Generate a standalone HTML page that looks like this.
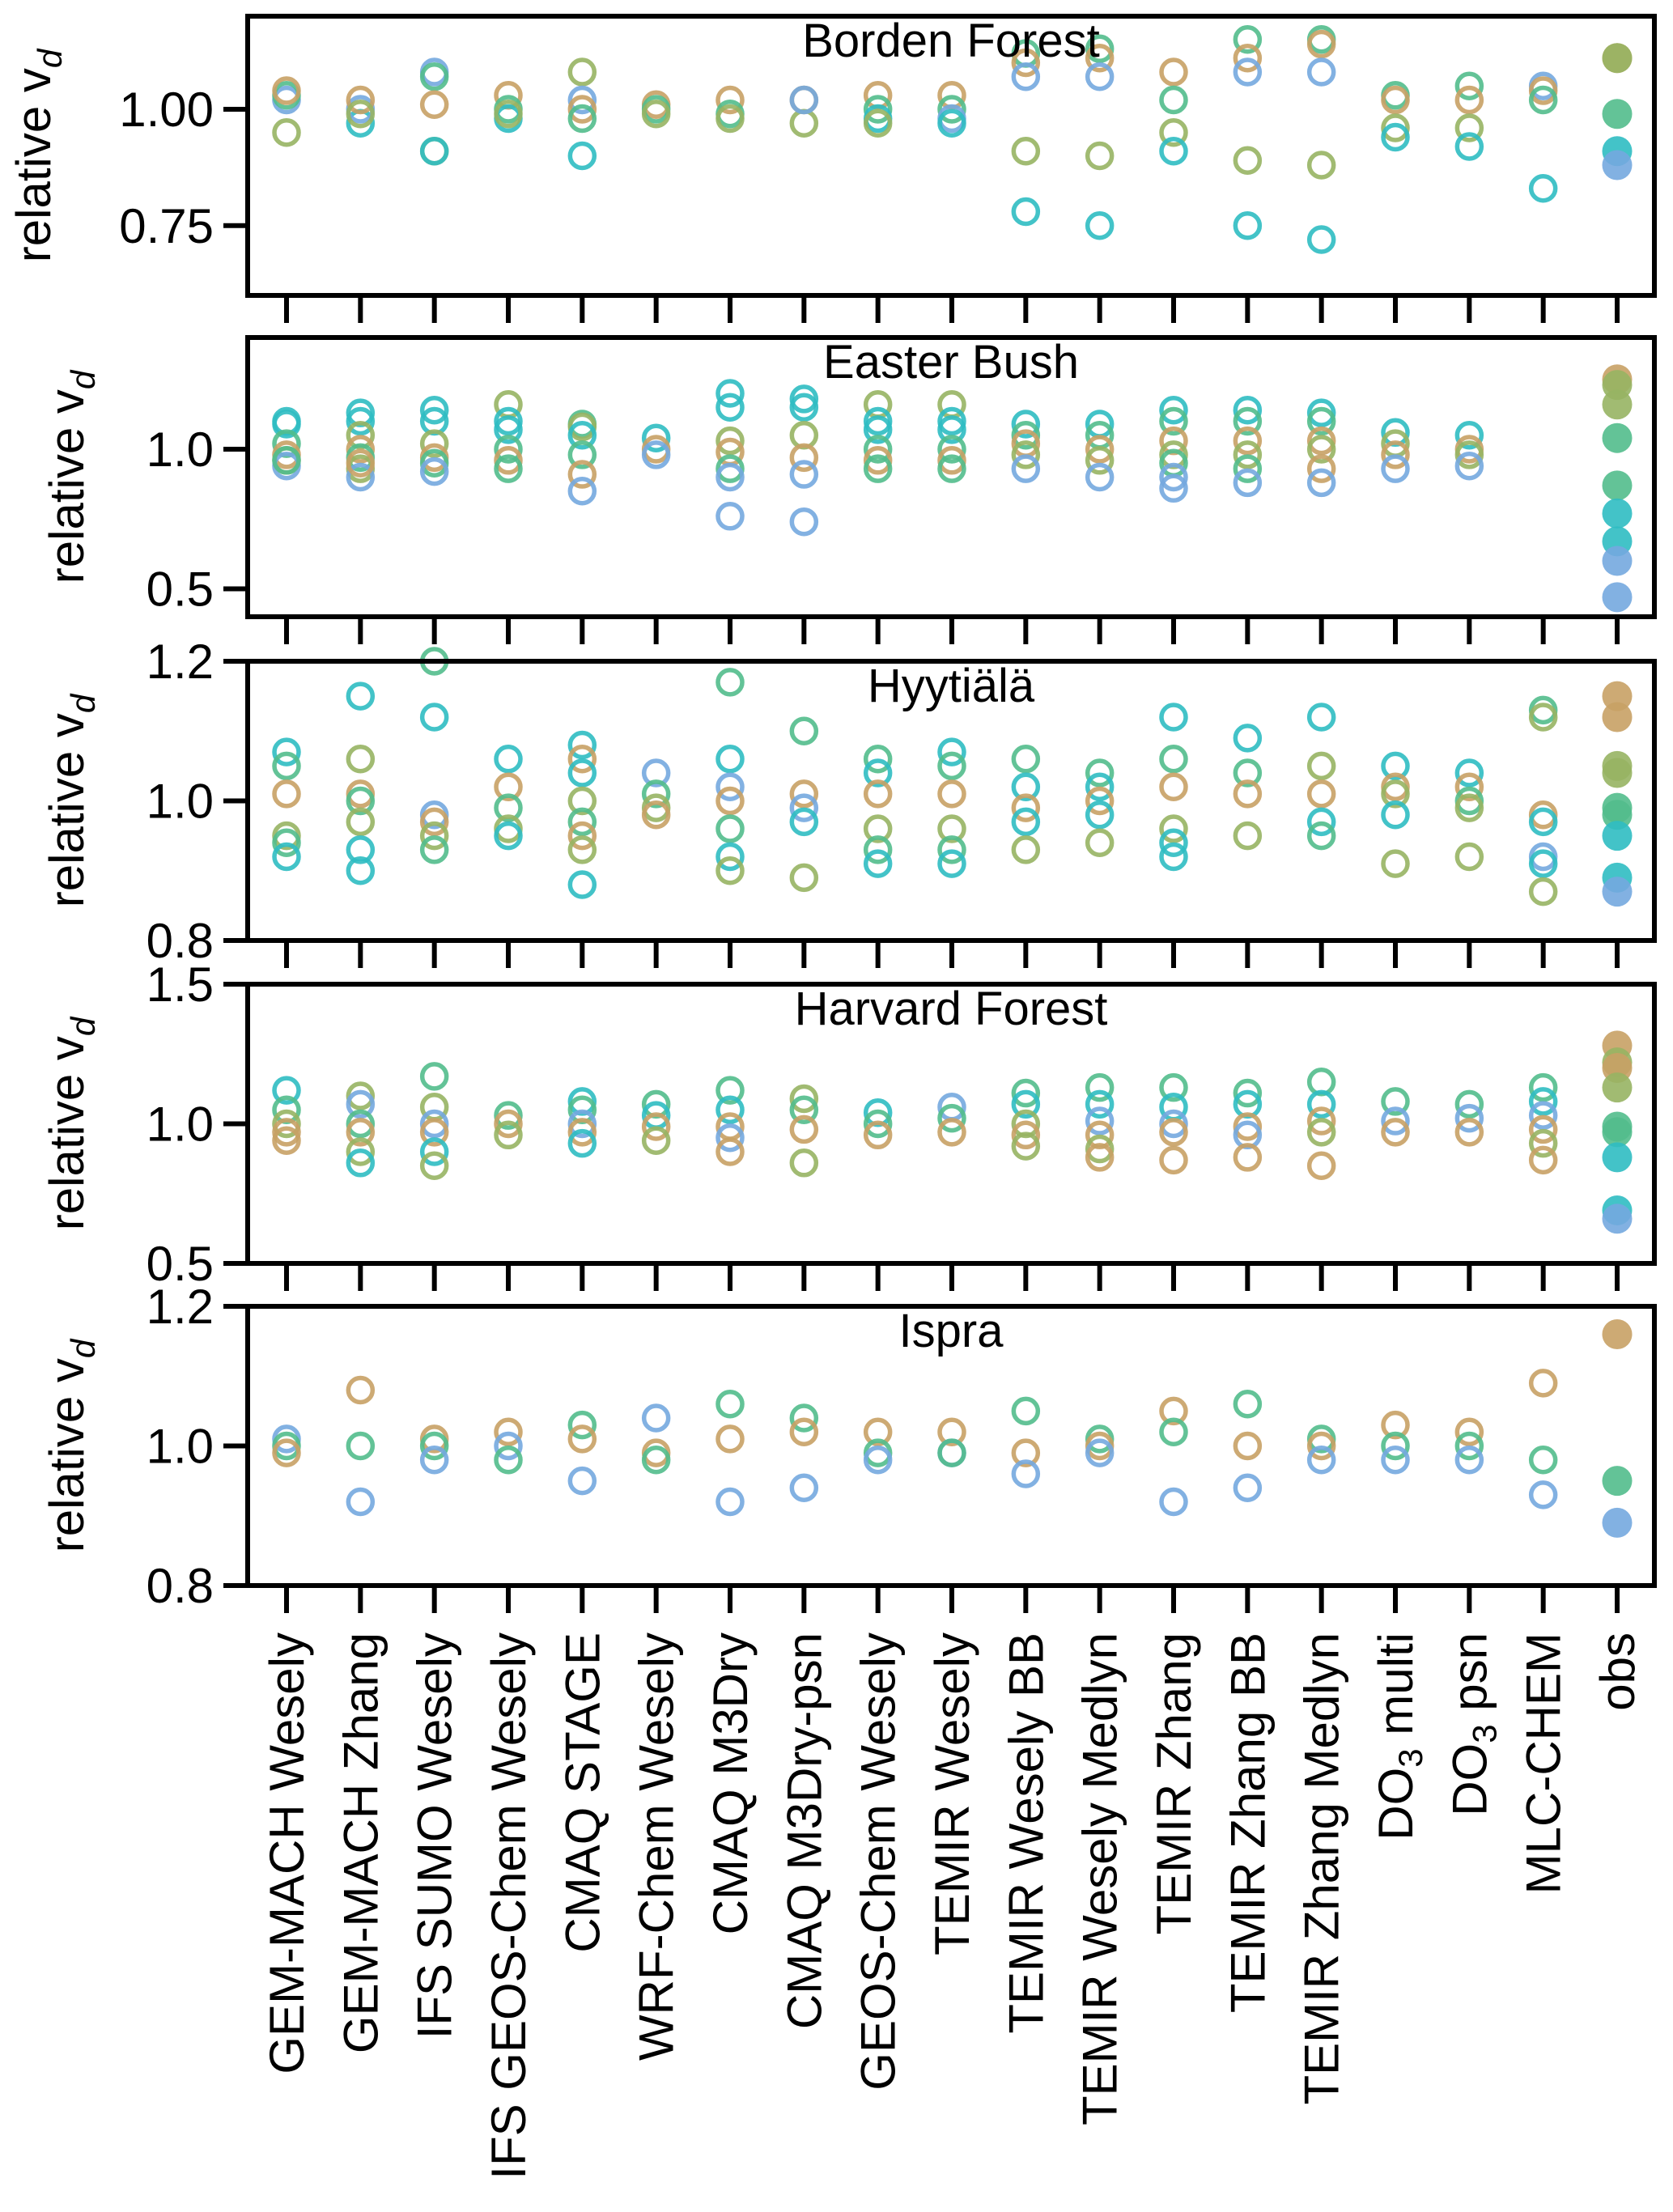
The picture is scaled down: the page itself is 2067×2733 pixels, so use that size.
<!DOCTYPE html>
<html><head><meta charset="utf-8">
<style>
html,body{margin:0;padding:0;background:#fff;}
svg{display:block;font-family:"Liberation Sans",Arial,sans-serif;}
</style></head>
<body>
<svg id="chart" width="2067" height="2733" viewBox="0 0 2067 2733" xmlns="http://www.w3.org/2000/svg"></svg>
<script>
const categories = ["GEM-MACH Wesely","GEM-MACH Zhang","IFS SUMO Wesely","IFS GEOS-Chem Wesely","CMAQ STAGE","WRF-Chem Wesely","CMAQ M3Dry","CMAQ M3Dry-psn","GEOS-Chem Wesely","TEMIR Wesely","TEMIR Wesely BB","TEMIR Wesely Medlyn","TEMIR Zhang","TEMIR Zhang BB","TEMIR Zhang Medlyn","DO3SE multi","DO3SE psn","MLC-CHEM","obs"];
const siteNames = ["Borden Forest","Easter Bush","Hyytiälä","Harvard Forest","Ispra"];
const yLimits = [[0.6,1.2],[0.4,1.4],[0.8,1.2],[0.5,1.5],[0.8,1.2]];
const yTickValues = [[0.75,1.00],[0.5,1.0],[0.8,1.0,1.2],[0.5,1.0,1.5],[0.8,1.0,1.2]];
const yTickLabels = [["0.75","1.00"],["0.5","1.0"],["0.8","1.0","1.2"],["0.5","1.0","1.5"],["0.8","1.0","1.2"]];
const palette = ["#74a9df","#2fbcc2","#52bd8c","#97b463","#c8a165"];

const bordenVals = [[1.02,1.03,1.04,0.95],[0.97,1.00,1.02,0.99],[1.08,1.07,1.01,0.91,0.91],[1.03,1.00,0.98,0.99],[1.08,1.02,1.00,0.98,0.90],[1.01,1.00,0.99],[1.02,0.99,0.98],[1.02,0.97,1.02],[1.03,1.00,0.98,0.97],[1.03,1.00,0.98,0.97],[1.12,1.10,1.07,0.91,0.78],[1.13,1.11,1.07,0.90,0.75],[1.08,1.02,0.95,0.91],[1.15,1.11,1.08,0.89,0.75],[1.15,1.14,1.08,0.88,0.72],[1.03,1.02,0.96,0.94],[1.05,1.02,0.96,0.92],[1.05,1.04,1.02,0.83],[1.11,1.11,0.99,0.91,0.88]];
const bordenCols = [[0,2,4,3],[1,0,4,3],[0,2,4,3,1],[4,2,1,3],[3,0,4,2,1],[4,2,3],[4,2,3],[4,3,0],[4,2,1,3],[4,2,0,1],[2,4,0,3,1],[2,4,0,3,1],[4,2,3,1],[2,4,0,3,1],[2,4,0,3,1],[2,4,3,1],[2,4,3,1],[0,4,2,1],[4,3,2,1,0]];

const easterVals = [[1.10,1.09,1.02,0.98,0.96,0.94,0.96],[1.13,1.10,1.05,1.00,0.97,0.93,0.90,0.95],[1.14,1.10,1.02,0.97,0.95,0.92],[1.16,1.10,1.07,1.00,0.96,0.93],[1.09,1.08,1.05,0.98,0.91,0.85],[1.04,1.00,0.98],[1.20,1.15,1.03,0.99,0.93,0.90,0.76],[1.18,1.15,1.05,0.97,0.91,0.74],[1.16,1.10,1.07,1.00,0.96,0.93],[1.16,1.10,1.07,1.00,0.96,0.93],[1.09,1.05,1.02,0.98,0.93],[1.09,1.05,1.00,0.96,0.90],[1.14,1.10,1.03,0.98,0.95,0.90,0.86],[1.14,1.10,1.03,0.98,0.93,0.88],[1.13,1.10,1.03,1.00,0.93,0.88],[1.06,1.02,0.98,0.93],[1.05,1.00,0.98,0.94],[],[1.25,1.23,1.16,1.04,0.87,0.77,0.67,0.60,0.47]];
const easterCols = [[1,1,2,4,3,0,2],[1,1,3,4,2,3,0,4],[1,1,3,4,2,0],[3,1,1,2,4,2],[2,3,1,2,4,0],[1,4,0],[1,1,3,4,2,0,0],[1,1,3,4,0,0],[3,1,1,2,4,2],[3,1,1,2,4,2],[1,2,4,3,0],[1,2,4,3,0],[1,2,4,3,2,0,0],[1,2,4,3,2,0],[1,2,4,3,4,0],[1,3,4,0],[1,4,3,0],[],[4,3,3,2,2,1,1,0,0]];

const hyyVals = [[1.07,1.05,1.01,0.95,0.94,0.92],[1.15,1.06,1.01,1.00,0.97,0.93,0.90],[1.20,1.12,0.98,0.97,0.95,0.93],[1.06,1.02,0.99,0.96,0.95],[1.08,1.06,1.04,1.00,0.97,0.95,0.93,0.88],[1.04,1.01,0.99,0.98],[1.17,1.06,1.02,1.00,0.96,0.92,0.90],[1.10,1.01,0.99,0.97,0.89],[1.06,1.04,1.01,0.96,0.93,0.91],[1.07,1.05,1.01,0.96,0.93,0.91],[1.06,1.02,0.99,0.97,0.93],[1.04,1.02,1.00,0.98,0.94],[1.12,1.06,1.02,0.96,0.94,0.92],[1.09,1.04,1.01,0.95],[1.12,1.05,1.01,0.97,0.95],[1.05,1.02,1.01,0.98,0.91],[1.04,1.02,1.00,0.99,0.92],[1.13,1.12,0.98,0.97,0.92,0.91,0.87],[1.15,1.12,1.05,1.04,0.99,0.98,0.95,0.89,0.87]];
const hyyCols = [[1,2,4,3,2,1],[1,3,4,2,3,1,1],[2,1,0,4,3,2],[1,4,2,3,1],[1,4,1,3,2,4,3,1],[0,2,3,4],[2,1,0,4,2,1,3],[2,4,0,1,3],[2,1,4,3,2,1],[1,2,4,3,2,1],[2,1,4,1,3],[2,1,4,1,3],[1,2,4,3,1,1],[1,2,4,3],[1,3,4,1,2],[1,4,3,1,3],[1,4,2,3,3],[2,3,4,1,0,1,3],[4,4,3,3,2,2,1,1,0]];

const harvVals = [[1.12,1.05,1.00,0.97,0.94],[1.10,1.07,1.00,0.97,0.90,0.86],[1.17,1.06,1.00,0.97,0.90,0.85],[1.03,1.00,0.96],[1.08,1.05,1.00,0.97,0.93],[1.07,1.03,0.99,0.94],[1.12,1.05,0.99,0.95,0.90],[1.09,1.05,0.98,0.86],[1.04,1.00,0.96],[1.06,1.02,0.97],[1.11,1.07,1.00,0.96,0.92],[1.13,1.07,1.01,0.96,0.91,0.88],[1.13,1.06,1.00,0.97,0.87],[1.11,1.07,0.99,0.96,0.88],[1.15,1.07,1.01,0.97,0.85],[1.08,1.01,0.97],[1.07,1.02,0.97],[1.13,1.08,1.03,0.98,0.93,0.87],[1.28,1.22,1.20,1.13,0.99,0.97,0.88,0.69,0.66]];
const harvCols = [[1,2,3,4,4],[3,0,2,4,3,1],[2,3,0,4,1,3],[2,4,3],[1,2,0,4,1],[2,1,4,3],[2,1,4,0,4],[3,2,4,3],[1,2,4],[0,2,4],[2,1,3,4,3],[2,1,0,4,3,4],[2,1,0,4,4],[2,1,4,0,4],[2,1,4,3,4],[2,0,4],[2,0,4],[2,1,0,4,3,4],[4,3,4,3,2,2,1,1,0]];

const ispraVals = [[1.01,1.00,0.99],[1.08,1.00,0.92],[1.01,1.00,0.98],[1.02,1.00,0.98],[1.03,1.01,0.95],[1.04,0.99,0.98],[1.06,1.01,0.92],[1.04,1.02,0.94],[1.02,0.99,0.98],[1.02,0.99,0.99],[1.05,0.99,0.96],[1.01,1.00,0.99],[1.05,1.02,0.92],[1.06,1.00,0.94],[1.01,1.00,0.98],[1.03,1.00,0.98],[1.02,1.00,0.98],[1.09,0.98,0.93],[1.16,0.95,0.89]];
const ispraCols = [[0,2,4],[4,2,0],[4,2,0],[4,0,2],[2,4,0],[0,4,2],[2,4,0],[2,4,0],[4,2,0],[4,0,2],[2,4,0],[2,4,0],[4,2,0],[2,4,0],[2,4,0],[4,2,0],[4,2,0],[4,2,0],[4,2,0]];

const allVals = [bordenVals, easterVals, hyyVals, harvVals, ispraVals];
const allCols = [bordenCols, easterCols, hyyCols, harvCols, ispraCols];

const NS = "http://www.w3.org/2000/svg";
const svg = document.getElementById("chart");
const left = 306, right = 2044, panelH = 345;
const panelTops = [20, 417, 817, 1216, 1614];
const x0 = 354, xStep = (1998 - 354) / 18;
function xScale(i){ return x0 + i * xStep; }
function yScale(p, v){ const [lo,hi] = yLimits[p]; const t = panelTops[p]; return t + (hi - v) / (hi - lo) * panelH; }
function mk(tag, attrs, parent){ const e = document.createElementNS(NS, tag); for (const k in attrs) e.setAttribute(k, attrs[k]); (parent||svg).appendChild(e); return e; }

for (let p = 0; p < 5; p++) {
  const top = panelTops[p], bot = top + panelH;
  const g = mk("g", {});
  
  
  const vals = allVals[p], cols = allCols[p];
  for (let i = 0; i < vals.length; i++) {
    for (let j = 0; j < vals[i].length; j++) {
      const isObs = (i === 18);
      const c = palette[cols[i][j]];
      const m = mk("circle", isObs ?
        {cx: xScale(i), cy: yScale(p, vals[i][j]), r: 18.5, fill: c, "fill-opacity": 0.9} :
        {cx: xScale(i), cy: yScale(p, vals[i][j]), r: 15, fill: "none", stroke: c, "stroke-width": 5.5, "stroke-opacity": 0.9}, g);
      
      
    }
  }
  const fr = mk("rect", {x: left, y: top, width: right - left, height: panelH, fill: "none", stroke: "#000", "stroke-width": 6}, g);
  
  
  for (let i = 0; i < categories.length; i++) {
    const t = mk("line", {x1: xScale(i), x2: xScale(i), y1: bot + 2, y2: bot + 34, stroke: "#000", "stroke-width": 6}, g);
    
    
  }
  let maxW = 0;
  for (let k = 0; k < yTickValues[p].length; k++) {
    const y = yScale(p, yTickValues[p][k]);
    const t = mk("line", {x1: left - 30, x2: left, y1: y, y2: y, stroke: "#000", "stroke-width": 6}, g);
    
    
    const lb = mk("text", {x: left - 42, y: y + 21, "text-anchor": "end", "font-size": 60, fill: "#000"}, g);
    lb.textContent = yTickLabels[p][k];
    
    
    maxW = Math.max(maxW, yTickLabels[p][k].length);
  }
  const yc = top + panelH / 2;
  const yx = maxW > 3 ? 62 : 103;
  const yt = mk("text", {x: yx, y: yc, "text-anchor": "middle", "font-size": 60, transform: `rotate(-90 ${yx} ${yc})`, fill: "#000"}, g);
  yt.innerHTML = 'relative v<tspan font-style="italic" font-size="42" dy="14">d</tspan>';
  
  
  const tt = mk("text", {x: (left + right) / 2, y: top + 50, "text-anchor": "middle", "font-size": 58, fill: "#000"}, g);
  tt.textContent = siteNames[p];
  
  
}
for (let i = 0; i < categories.length; i++) {
  const x = xScale(i) + 21, y = 2017;
  const t = mk("text", {x: x, y: y, "text-anchor": "end", "font-size": 60, transform: `rotate(-90 ${x} ${y})`, fill: "#000"});
  const name = categories[i];
  if (name.indexOf("DO3SE") === 0) {
    t.innerHTML = 'DO<tspan font-size="42" dy="12">3</tspan><tspan dy="-12">' + name.slice(5) + '</tspan>';
  } else {
    t.textContent = name;
  }
  
  
}
</script>
</body></html>
